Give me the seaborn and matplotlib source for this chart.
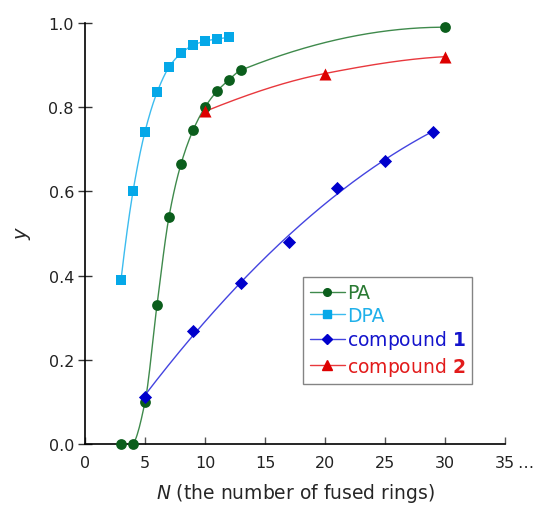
import numpy as np
import pandas as pd
import matplotlib
matplotlib.use("Agg")
import matplotlib.pyplot as plt
import seaborn as sns
from matplotlib.lines import Line2D

# data
pa_n = [3, 4, 5, 6, 7, 8, 9, 10, 11, 12, 13, 30]
pa_y = [0.0, 0.0, 0.10, 0.33, 0.54, 0.665, 0.745, 0.80, 0.838, 0.865, 0.888, 0.99]

dpa_n = [3, 4, 5, 6, 7, 8, 9, 10, 11, 12]
dpa_y = [0.39, 0.60, 0.742, 0.835, 0.895, 0.928, 0.947, 0.957, 0.962, 0.966]

c1_n = [5, 9, 13, 17, 21, 25, 29]
c1_y = [0.112, 0.268, 0.383, 0.48, 0.608, 0.673, 0.742]

c2_n = [10, 20, 30]
c2_y = [0.79, 0.88, 0.92]

x_ticks = [0, 5, 10, 15, 20, 25, 30, 35]
y_ticks = [0.0, 0.2, 0.4, 0.6, 0.8, 1.0]


def pchip(x, y, xs):
    # monotone cubic curve through the points (smooth connecting line)
    x = np.asarray(x, float)
    y = np.asarray(y, float)
    h = np.diff(x)
    d = np.diff(y) / h
    n = len(x)
    m = np.zeros(n)
    for k in range(1, n - 1):
        if d[k - 1] * d[k] > 0:
            w1 = 2 * h[k] + h[k - 1]
            w2 = h[k] + 2 * h[k - 1]
            m[k] = (w1 + w2) / (w1 / d[k - 1] + w2 / d[k])

    def end_slope(h0, h1, d0, d1):
        s = ((2 * h0 + h1) * d0 - h0 * d1) / (h0 + h1)
        if np.sign(s) != np.sign(d0):
            return 0.0
        if np.sign(d0) != np.sign(d1) and abs(s) > abs(3 * d0):
            return 3 * d0
        return s

    if n > 2:
        m[0] = end_slope(h[0], h[1], d[0], d[1])
        m[-1] = end_slope(h[-1], h[-2], d[-1], d[-2])
    else:
        m[:] = d[0]
    idx = np.clip(np.searchsorted(x, xs) - 1, 0, n - 2)
    t = (xs - x[idx]) / h[idx]
    h00 = 2 * t**3 - 3 * t**2 + 1
    h10 = t**3 - 2 * t**2 + t
    h01 = -2 * t**3 + 3 * t**2
    h11 = t**3 - t**2
    return h00 * y[idx] + h10 * h[idx] * m[idx] + h01 * y[idx + 1] + h11 * h[idx] * m[idx + 1]


def quad_fit(x, y, xs):
    # compound 1 is drawn with a smooth fitted trend
    return np.polyval(np.polyfit(x, y, 2), xs)


sns.set_theme(style="ticks")
plt.rcParams["font.family"] = ["DejaVu Sans"]

fig = plt.figure(figsize=(5.36, 5.06), dpi=100)
ax = fig.add_axes([0.1586, 0.1206, 0.7836, 0.832])

series = [
    # name, n, y, marker color, line color, text color, marker, size, curve start, curve kind
    ("PA", pa_n, pa_y, "#0b5e1c", "#3f8a4c", "#2a7a33", "o", 60, 1, "pchip"),
    ("DPA", dpa_n, dpa_y, "#05a8e8", "#3cbcef", "#1fb0ea", "s", 55, 0, "pchip"),
    ("compound 1", c1_n, c1_y, "#0000cc", "#4444e0", "#1414cc", "D", 45, 0, "fit"),
    ("compound 2", c2_n, c2_y, "#dd0000", "#e8383d", "#e21b1b", "^", 75, 0, "pchip"),
]

handles = []
for name, n, y, mc, lc, tc, mk, sz, start, kind in series:
    xs = np.linspace(n[start], n[-1], 300)
    f = pchip if kind == "pchip" else quad_fit
    curve = pd.DataFrame({"N": xs, "y": f(n[start:], y[start:], xs)})
    sns.lineplot(data=curve, x="N", y="y", color=lc, linewidth=1.0, ax=ax, sort=False)
    pts = pd.DataFrame({"N": n, "y": y})
    sns.scatterplot(data=pts, x="N", y="y", color=mc, marker=mk, s=sz,
                    edgecolor=mc, linewidth=0, ax=ax, clip_on=False, zorder=3)
    handles.append(Line2D([], [], color=lc, linewidth=1.0, marker=mk,
                          markersize=5.5 if mk != "^" else 6.5, markerfacecolor=mc,
                          markeredgecolor=mc))

ax.set_xlim(0, 35)
ax.set_ylim(0, 1.0)
ax.set_xticks(x_ticks)
ax.set_xticklabels([str(v) for v in x_ticks])
ax.set_yticks(y_ticks)
ax.set_yticklabels([f"{v:.1f}" for v in y_ticks])
ax.tick_params(axis="x", direction="in", length=5, width=1, color="#555555",
               labelsize=11.5, labelcolor="#222222", pad=8)
ax.tick_params(axis="y", direction="inout", length=10, width=1, color="#333333",
               labelsize=11.5, labelcolor="#222222", pad=3)
ax.annotate("\u2026", xy=(35, 0), xycoords=("data", "axes fraction"),
            xytext=(9, -8), textcoords="offset points", ha="left", va="top",
            fontsize=11.5, color="#222222")

for s in ["top", "right"]:
    ax.spines[s].set_visible(False)
for s in ["left", "bottom"]:
    ax.spines[s].set_color("black")
    ax.spines[s].set_linewidth(1.2)

ax.set_xlabel(r"$\it{N}$ (the number of fused rings)", fontsize=13.5, labelpad=8)
ax.set_ylabel("y", fontsize=14, style="italic", labelpad=12)

labels = ["PA", "DPA", r"compound $\mathbf{1}$", r"compound $\mathbf{2}$"]
leg = ax.legend(handles, labels, loc="upper left", bbox_to_anchor=(0.519, 0.397),
                frameon=True, fancybox=False, edgecolor="#666666", fontsize=13.5,
                handlelength=1.9, handletextpad=0.1, borderpad=0.35,
                labelspacing=0.18, borderaxespad=0)
leg.get_frame().set_linewidth(1.0)
for txt, s in zip(leg.get_texts(), series):
    txt.set_color(s[5])

fig.savefig("out.png", dpi=100)
